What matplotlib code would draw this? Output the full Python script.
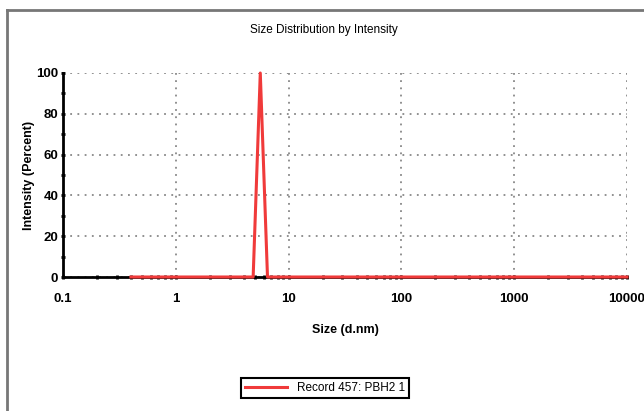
import matplotlib.pyplot as plt
from matplotlib.lines import Line2D
from matplotlib.ticker import FixedLocator, LogLocator, NullFormatter

# size classes (d.nm) where the curve changes, and intensity (%)
size_nm = [0.4, 4.85, 5.61, 6.5, 10000]
intensity = [0, 0, 100, 0, 0]

x_ticks = [0.1, 1, 10, 100, 1000, 10000]
x_labels = ['0.1', '1', '10', '100', '1000', '10000']
y_ticks = [0, 20, 40, 60, 80, 100]

plt.rcParams['font.family'] = ['Liberation Sans Narrow', 'Liberation Sans', 'DejaVu Sans']

fig = plt.figure(figsize=(6.44, 4.11), dpi=100)
ax = fig.add_axes([63 / 644, 1 - 277 / 411, 564 / 644, 204 / 411])

# outer frame (top and left edge of the screenshot)
fig.add_artist(Line2D([7 / 644, 1], [1 - 10 / 411] * 2, color='#777777', lw=2,
                      transform=fig.transFigure))
fig.add_artist(Line2D([7 / 644] * 2, [0, 1 - 10 / 411], color='#777777', lw=2,
                      transform=fig.transFigure))

ax.plot(size_nm, intensity, color='#f03a3a', lw=2.2, clip_on=False, zorder=5,
        label='Record 457: PBH2 1')

ax.set_xscale('log')
ax.set_xlim(0.1, 10000)
ax.set_ylim(0, 100)
ax.xaxis.set_major_locator(FixedLocator(x_ticks))
ax.set_xticklabels(x_labels)
ax.xaxis.set_minor_locator(LogLocator(base=10, subs=range(2, 10)))
ax.xaxis.set_minor_formatter(NullFormatter())
ax.set_yticks(y_ticks)
ax.yaxis.set_minor_locator(FixedLocator([10, 30, 50, 70, 90]))

ax.grid(True, which='major', color='#888888', linestyle=(0, (1, 3)), lw=1.3)
for s in ['top', 'right']:
    ax.spines[s].set_visible(False)
for s in ['left', 'bottom']:
    ax.spines[s].set_linewidth(2)
ax.tick_params(which='both', direction='inout', length=3, width=2, color='black')
ax.tick_params(axis='x', labelsize=9.5, pad=10)
ax.tick_params(axis='y', labelsize=9.5, pad=2)
for lbl in ax.get_xticklabels() + ax.get_yticklabels():
    lbl.set_fontweight('bold')

ax.set_xlabel('Size (d.nm)', fontsize=9, fontweight='bold', labelpad=14)
ax.set_ylabel('Intensity (Percent)', fontsize=9, fontweight='bold', labelpad=1)
fig.text(324 / 644, 1 - 30 / 411, 'Size Distribution by Intensity', ha='center',
         va='center', fontsize=8.5)

leg = fig.legend(loc='center', bbox_to_anchor=(325 / 644, 1 - 388 / 411),
                 fancybox=False, edgecolor='black', fontsize=8.5, handlelength=3.6,
                 borderpad=0.3, framealpha=1)
leg.get_frame().set_linewidth(1.5)

fig.savefig('out.png', dpi=100)
